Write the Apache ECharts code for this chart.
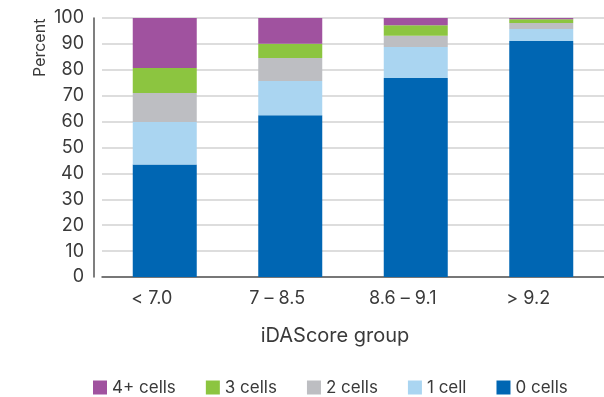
<!DOCTYPE html>
<html><head><meta charset="utf-8">
<script src="https://cdn.jsdelivr.net/npm/echarts@6/dist/echarts.min.js"></script>
<style>html,body{margin:0;padding:0;background:#fff}#c{width:604px;height:397px}</style>
</head><body><div id="c"></div>
<script>
const categories = ['< 7.0', '7 \u2013 8.5', '8.6 \u2013 9.1', '> 9.2'];
const cells0 = [43.4, 62.5, 76.8, 91.1];
const cells1 = [16.4, 13.2, 12.0, 4.7];
const cells2 = [11.2, 8.9, 4.3, 2.3];
const cells3 = [9.7, 5.5, 4.1, 1.4];
const cells4p = [19.3, 9.9, 2.8, 0.5];
const yTicks = [0, 10, 20, 30, 40, 50, 60, 70, 80, 90, 100];

const font = 'Inter';
const txt = '#3a3a3a';
const chart = echarts.init(document.getElementById('c'));
const mk = (name, data, color) => ({
  name, type: 'bar', stack: 'a', data, barWidth: 64,
  itemStyle: { color }, emphasis: { disabled: true }
});
chart.setOption({
  animation: false,
  textStyle: { fontFamily: font },
  grid: { left: 102, right: -8, top: 18, bottom: 120, containLabel: false },
  xAxis: {
    type: 'category', data: categories,
    axisLine: { lineStyle: { color: '#555', width: 1.5 } },
    axisTick: { show: false },
    axisLabel: { color: txt, fontSize: 18, fontFamily: font, margin: 13, padding: [0, 26, 0, 0] }
  },
  yAxis: {
    type: 'value', min: yTicks[0], max: yTicks[yTicks.length - 1], interval: 10,
    offset: 8,
    axisLine: { show: true, lineStyle: { color: '#555', width: 1.5 } },
    axisTick: { show: false },
    splitLine: { lineStyle: { color: '#d2d2d2', width: 1.5 } },
    axisLabel: { color: txt, fontSize: 18, fontFamily: font, margin: 10 }
  },
  legend: {
    data: ['4+ cells', '3 cells', '2 cells', '1 cell', '0 cells'],
    left: 88, top: 374, itemWidth: 14, itemHeight: 14, itemGap: 30,
    icon: 'rect',
    textStyle: { color: txt, fontSize: 17, fontFamily: font }
  },
  graphic: [
    { type: 'text', x: 335, y: 336, style: { text: 'iDAScore group', fontSize: 20, fontFamily: font, fill: txt, align: 'center', verticalAlign: 'middle' } },
    { type: 'text', x: 32, y: 77, rotation: Math.PI / 2, style: { text: 'Percent', fontSize: 16, fontFamily: font, fill: txt } }
  ],
  series: [
    mk('0 cells', cells0, '#0066b3'),
    mk('1 cell', cells1, '#aad5f1'),
    mk('2 cells', cells2, '#bdbec2'),
    mk('3 cells', cells3, '#8cc540'),
    mk('4+ cells', cells4p, '#a0529f')
  ]
});
</script></body></html>
